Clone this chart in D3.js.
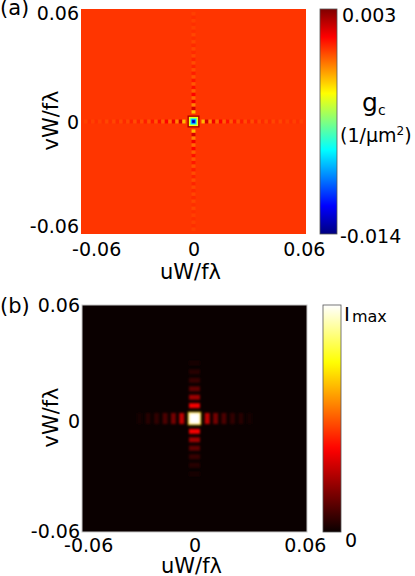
<!DOCTYPE html>
<html>
<head>
<meta charset="utf-8">
<script src="https://cdn.jsdelivr.net/npm/d3@7"></script>
<style>
  body { margin: 0; background: #fff; }
  text { font-family: "DejaVu Sans", sans-serif; fill: #000; }
</style>
</head>
<body>
<script>
// tick values shared by both panels
var tickValues = [-0.06, 0, 0.06];
var axisExtent = [-0.0635, 0.0635];

// (a) g_c in 1/um^2 : colour range, nested squares at the centre, lobes along the arms
var gcRange = [-0.014, 0.003];
var gcBackground = 0;
var gcCoreSide  = [0.0068, 0.0052, 0.0041, 0.0031, 0.0021, 0.0011];
var gcCoreValue = [0.0022, -0.0035, -0.0055, -0.008, -0.0115, -0.014];
var gcArmOffset = [0.0054, 0.0074, 0.0094, 0.0113, 0.0133, 0.0153, 0.0173, 0.0193, 0.0212,
                   0.0232, 0.0252, 0.0272, 0.0292, 0.0311, 0.0331, 0.0351, 0.0371, 0.0391,
                   0.041, 0.043, 0.045, 0.047, 0.049, 0.0509, 0.0529, 0.0549, 0.0569,
                   0.0589, 0.0608];
var gcArmValue  = [-0.0022, 0.0016, -0.0013, 0.0011, -0.0009, 0.0008, -0.0007, 0.0006, -0.0006,
                   0.0005, -0.0005, 0.0004, -0.0004, 0.0003, -0.0004, 0.0003, -0.0003, 0.0002,
                   -0.0003, 0.0002, -0.0003, 0.0001, -0.0003, 0.0001, -0.0002, 0.0001, -0.0002,
                   0.0001, -0.0002];

// (b) intensity / I_max
var iRange = [0, 1];
var iBackground = 0;
var iCoreSide  = [0.0074, 0.0058];
var iCoreValue = [0.7, 1];
var iArmOffset = [0.0072, 0.0119, 0.0166, 0.0214, 0.0262, 0.031];
var iArmValueU = [0.27, 0.16, 0.1, 0.06, 0.04, 0.022];
var iArmValueV = [0.35, 0.22, 0.13, 0.07, 0.04, 0.022];

// colormaps
function jet(range) {
  var t = [0, 0.125, 0.375, 0.625, 0.875, 1];
  return d3.scaleLinear()
    .domain(t.map(function(d) { return range[0] + d * (range[1] - range[0]); }))
    .range(["#000080", "#0000ff", "#00ffff", "#ffff00", "#ff0000", "#800000"])
    .clamp(true);
}
function hot(range) {
  var t = [0, 0.365, 0.746, 1];
  return d3.scaleLinear()
    .domain(t.map(function(d) { return range[0] + d * (range[1] - range[0]); }))
    .range(["#0a0000", "#ff0000", "#ffff00", "#ffffff"])
    .clamp(true);
}

var svg = d3.select("body").append("svg")
    .attr("width", 415)
    .attr("height", 576);

var defs = svg.append("defs");
defs.append("filter").attr("id", "softA")
  .append("feGaussianBlur").attr("stdDeviation", 0.6);
defs.append("filter").attr("id", "softB")
  .append("feGaussianBlur").attr("stdDeviation", 0.9);

// build the list of rectangles (four arms, then centre squares on top)
function buildCells(coreSide, coreValue, armOffset, armU, armV, along, across) {
  var cells = [];
  armOffset.forEach(function(o, i) {
    cells.push({u:  o, v: 0, w: along, h: across, value: armU[i]});
    cells.push({u: -o, v: 0, w: along, h: across, value: armU[i]});
    cells.push({u: 0, v:  o, w: across, h: along, value: armV[i]});
    cells.push({u: 0, v: -o, w: across, h: along, value: armV[i]});
  });
  coreSide.forEach(function(s, i) {
    cells.push({u: 0, v: 0, w: s, h: s, value: coreValue[i]});
  });
  return cells;
}

function drawPanel(p) {
  var x = d3.scaleLinear().domain(axisExtent).range([p.left, p.right]);
  var y = d3.scaleLinear().domain(axisExtent).range([p.bottom, p.top]);

  var clipId = "clip" + p.id;
  defs.append("clipPath").attr("id", clipId)
    .append("rect")
      .attr("x", p.left).attr("y", p.top)
      .attr("width", p.right - p.left).attr("height", p.bottom - p.top);

  var plot = svg.append("g").attr("clip-path", "url(#" + clipId + ")");

  plot.append("rect")
      .attr("x", p.left).attr("y", p.top)
      .attr("width", p.right - p.left).attr("height", p.bottom - p.top)
      .attr("fill", p.color(p.background));

  plot.append("g")
      .attr("filter", "url(#" + p.filter + ")")
    .selectAll("rect")
      .data(p.cells)
    .enter().append("rect")
      .attr("x", function(d) { return x(d.u - d.w / 2); })
      .attr("y", function(d) { return y(d.v + d.h / 2); })
      .attr("width", function(d) { return x(d.u + d.w / 2) - x(d.u - d.w / 2); })
      .attr("height", function(d) { return y(d.v - d.h / 2) - y(d.v + d.h / 2); })
      .attr("fill", function(d) { return p.color(d.value); });

  if (p.frame) {
    svg.append("rect")
        .attr("x", p.left).attr("y", p.top)
        .attr("width", p.right - p.left).attr("height", p.bottom - p.top)
        .attr("fill", "none")
        .attr("stroke", p.frame)
        .attr("stroke-width", 1);
  }

  // axes
  var fmt = function(d) { return d === 0 ? "0" : String(d); };

  var gx = svg.append("g")
      .attr("transform", "translate(0," + p.xTickBase + ")")
      .call(d3.axisBottom(x).tickValues(tickValues).tickFormat(fmt).tickSize(0).tickPadding(0));
  gx.select(".domain").remove();
  gx.selectAll("text")
      .attr("y", 0).attr("dy", null)
      .attr("dx", function(d, i) { return p.xNudge[i]; })
      .style("font-size", "19px")
      .style("font-family", "'DejaVu Sans', sans-serif");

  var gy = svg.append("g")
      .attr("transform", "translate(" + (p.left - 2) + ",0)")
      .call(d3.axisLeft(y).tickValues(tickValues).tickFormat(fmt).tickSize(0).tickPadding(0));
  gy.select(".domain").remove();
  gy.selectAll("text")
      .attr("dy", function(d, i) { return (6.5 + p.yNudge[i]) + "px"; })
      .style("font-size", "19px")
      .style("font-family", "'DejaVu Sans', sans-serif");

  svg.append("text")
      .attr("x", (p.left + p.right) / 2 - 3)
      .attr("y", p.xLabelBase)
      .attr("text-anchor", "middle")
      .style("font-size", "21px")
      .text("uW/f\u03bb");

  svg.append("text")
      .attr("transform", "translate(58," + ((p.top + p.bottom) / 2 - 1) + ") rotate(-90)")
      .attr("text-anchor", "middle")
      .style("font-size", "21px")
      .text("vW/f\u03bb");

  svg.append("text")
      .attr("x", 0)
      .attr("y", p.top + p.tagDy)
      .style("font-size", "21px")
      .text(p.tag);

  // colorbar: gradient stops taken from the colour scale
  var cb = p.cb;
  var cy = d3.scaleLinear().domain(p.range).range([cb.bottom, cb.top]);
  var gradId = "grad" + p.id;
  defs.append("linearGradient")
      .attr("id", gradId)
      .attr("x1", 0).attr("y1", 1).attr("x2", 0).attr("y2", 0)
    .selectAll("stop")
      .data(d3.range(0, 41).map(function(i) { return i / 40; }))
    .enter().append("stop")
      .attr("offset", function(t) { return t; })
      .attr("stop-color", function(t) { return p.color(cy.invert(cb.bottom - t * (cb.bottom - cb.top))); });
  svg.append("rect")
      .attr("x", cb.left).attr("y", cy(p.range[1]))
      .attr("width", cb.right - cb.left).attr("height", cy(p.range[0]) - cy(p.range[1]))
      .attr("fill", "url(#" + gradId + ")")
      .attr("stroke", "#555")
      .attr("stroke-width", 0.8);

  return cy;
}

// panel (a)
var cyA = drawPanel({
  id: "a", tag: "(a)", tagDy: 6,
  left: 81, right: 306, top: 9, bottom: 234,
  xTickBase: 256, xLabelBase: 279,
  xNudge: [9, 0, 4], yNudge: [-2, 0, -2],
  color: jet(gcRange), range: gcRange, background: gcBackground,
  filter: "softA", frame: null,
  cells: buildCells(gcCoreSide, gcCoreValue, gcArmOffset, gcArmValue, gcArmValue, 0.0018, 0.0022),
  cb: {left: 320, right: 337, top: 9, bottom: 234}
});

svg.append("text").attr("x", 342).attr("y", cyA(gcRange[1]) + 13)
    .style("font-size", "19px").text("0.003");
svg.append("text").attr("x", 340).attr("y", cyA(gcRange[0]) + 9)
    .style("font-size", "19px").text("-0.014");
var gLabel = svg.append("text").attr("x", 362).attr("y", 111).style("font-size", "25px");
gLabel.append("tspan").text("g");
gLabel.append("tspan").attr("dy", 4).style("font-size", "14px").text("c");
var uLabel = svg.append("text").attr("x", 340).attr("y", 142).style("font-size", "19px");
uLabel.append("tspan").text("(1/\u03bcm");
uLabel.append("tspan").attr("dy", -7).style("font-size", "12px").text("2");
uLabel.append("tspan").attr("dy", 7).text(")");

// panel (b)
var cyB = drawPanel({
  id: "b", tag: "(b)", tagDy: 8,
  left: 82, right: 307, top: 305, bottom: 532,
  xTickBase: 552, xLabelBase: 573,
  xNudge: [0, 0, 4], yNudge: [5, 2, -6],
  color: hot(iRange), range: iRange, background: iBackground,
  filter: "softB", frame: "#c8c8c8",
  cells: buildCells(iCoreSide, iCoreValue, iArmOffset, iArmValueU, iArmValueV, 0.0028, 0.0062),
  cb: {left: 323, right: 341, top: 305, bottom: 532}
});

var imax = svg.append("text").attr("x", 344).attr("y", cyB(iRange[1]) + 16).style("font-size", "20px");
imax.append("tspan").text("I");
imax.append("tspan").attr("dx", 2).attr("dy", 1).style("font-size", "16px").text("max");
svg.append("text").attr("x", 345).attr("y", cyB(iRange[0]) + 15)
    .style("font-size", "19px").text("0");
</script>
</body>
</html>
